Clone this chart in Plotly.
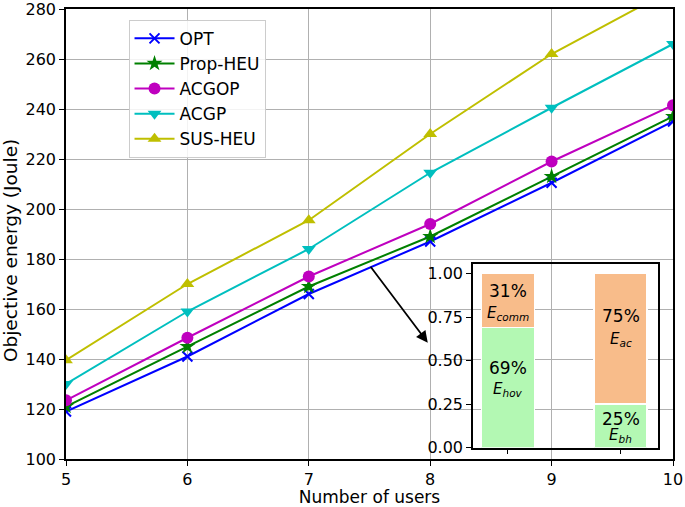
import plotly.graph_objects as go

users = [5, 6, 7, 8, 9, 10]
opt = [119, 141, 166, 187, 210.5, 235]
prop_heu = [121, 145, 169, 189, 213, 237]
acgop = [123.5, 148.5, 173, 194, 219, 241.5]
acgp = [130, 159, 184, 214.5, 240.5, 266]
sus_heu = [139.5, 170, 195.5, 230, 262, 288]

series_names = ["OPT", "Prop-HEU", "ACGOP", "ACGP", "SUS-HEU"]
series_vals = [opt, prop_heu, acgop, acgp, sus_heu]
colors = ["#0000ff", "#008000", "#bf00bf", "#00bfbf", "#bfbf00"]
symbols = ["x-thin", "star", "circle", "triangle-down", "triangle-up"]

inset_x = [0, 1]
inset_bottom = [0.69, 0.25]
inset_top = [0.31, 0.75]
bottom_pct = ["69%", "25%"]
top_pct = ["31%", "75%"]
bottom_lbl = ["hov", "bh"]
top_lbl = ["comm", "ac"]

FONT = "DejaVu Sans"
fig = go.Figure()

for name, vals, c, s in zip(series_names, series_vals, colors, symbols):
    fig.add_trace(go.Scatter(
        x=users, y=vals, name=name, mode="lines+markers",
        line=dict(color=c, width=2),
        marker=dict(symbol=s, size=12 if s != "x-thin" else 10, color=c,
                    line=dict(color=c, width=2 if s == "x-thin" else 0)),
    ))

fig.add_trace(go.Bar(x=inset_x, y=inset_bottom, xaxis="x2", yaxis="y2",
                     marker=dict(color="#b3f8b3", line=dict(color="white", width=1.5)),
                     width=0.47, showlegend=False))
fig.add_trace(go.Bar(x=inset_x, y=inset_top, xaxis="x2", yaxis="y2",
                     marker=dict(color="#f8bc8a", line=dict(color="white", width=1.5)),
                     width=0.47, showlegend=False))

ann = []
pct_y_top = [0.90, 0.755]
lbl_y_top = [0.774, 0.623]
pct_y_bot = [0.46, 0.162]
lbl_y_bot = [0.333, 0.069]
for i in range(2):
    ann.append(dict(x=inset_x[i], y=pct_y_top[i], xref="x2", yref="y2", text=top_pct[i],
                    showarrow=False, font=dict(family=FONT, size=17, color="black")))
    ann.append(dict(x=inset_x[i], y=lbl_y_top[i], xref="x2", yref="y2",
                    text="<i>E<sub>" + top_lbl[i] + "</sub></i>",
                    showarrow=False, font=dict(family=FONT, size=15, color="black")))
    ann.append(dict(x=inset_x[i], y=pct_y_bot[i], xref="x2", yref="y2", text=bottom_pct[i],
                    showarrow=False, font=dict(family=FONT, size=17, color="black")))
    ann.append(dict(x=inset_x[i], y=lbl_y_bot[i], xref="x2", yref="y2",
                    text="<i>E<sub>" + bottom_lbl[i] + "</sub></i>",
                    showarrow=False, font=dict(family=FONT, size=15, color="black")))

ann.append(dict(x=7.98, y=146.5, xref="x", yref="y", ax=7.5, ay=177.5, axref="x", ayref="y",
                text="", showarrow=True, arrowhead=2, arrowsize=1.3, arrowwidth=1.8,
                arrowcolor="black"))

# y-axis title (placed as annotation to match its offset position)
ann.append(dict(x=0, y=0.462, xref="paper", yref="paper", xanchor="center", yanchor="middle",
                xshift=-56, text="Objective energy (Joule)", textangle=-90, showarrow=False,
                font=dict(family=FONT, size=18.5, color="black")))

axis_common = dict(showline=True, linecolor="black", linewidth=1.5, mirror=True,
                   ticks="outside", ticklen=5, tickcolor="black", tickwidth=1.2,
                   tickfont=dict(family=FONT, size=16, color="black"), zeroline=False,
                   automargin=False, ticklabeloverflow="allow")

fig.update_layout(
    width=685, height=507,
    margin=dict(l=66, r=12, t=9, b=48),
    plot_bgcolor="rgba(0,0,0,0)", paper_bgcolor="white",
    barmode="stack",
    font=dict(family=FONT, size=16, color="black"),
    xaxis=dict(range=[5, 10], dtick=1, showgrid=True, gridcolor="#b0b0b0", gridwidth=1.2,
               title=dict(text="Number of users", font=dict(family=FONT, size=17), standoff=4),
               **axis_common),
    yaxis=dict(range=[100, 280], dtick=20, showgrid=True, gridcolor="#b0b0b0", gridwidth=1.2,
               **axis_common),
    xaxis2=dict(domain=[0.6705, 0.975], anchor="y2", range=[-0.31, 1.33],
                tickvals=[0, 1], ticktext=["", ""], showgrid=False, **axis_common),
    yaxis2=dict(domain=[0.0253, 0.433], anchor="x2", range=[0, 1.055],
                tickvals=[0, 0.25, 0.5, 0.75, 1.0],
                ticktext=["0.00", "0.25", "0.50", "0.75", "1.00"], showgrid=False, **axis_common),
    legend=dict(x=0.103, y=0.976, xanchor="left", yanchor="top", traceorder="normal",
                bgcolor="rgba(255,255,255,0.85)", bordercolor="#cccccc", borderwidth=1,
                font=dict(family=FONT, size=17), tracegroupgap=0, itemwidth=40),
    annotations=ann,
)

fig.write_html("out.html", config={"displayModeBar": False},
               post_script="document.body.style.margin='0';document.body.style.overflow='hidden';")
